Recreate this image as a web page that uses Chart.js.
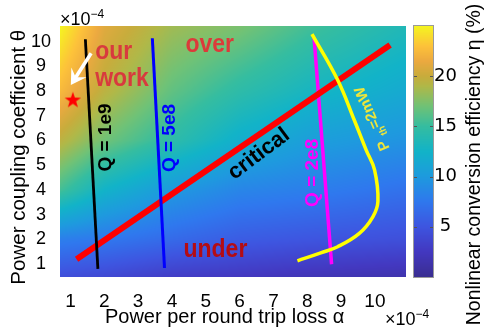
<!DOCTYPE html>
<html>
<head>
<meta charset="utf-8">
<script src="https://cdn.jsdelivr.net/npm/chart.js@4.4.0/dist/chart.umd.min.js"></script>
<style>
  html, body { margin: 0; padding: 0; background: #fff; }
  #wrap { width: 484px; height: 329px; }
</style>
</head>
<body>
<div id="wrap"><canvas id="map" width="484" height="329"></canvas></div>
<script>
// efficiency map (rows follow gridTheta, columns follow gridAlpha)
const gridAlpha = [0.7, 2, 4, 6, 8, 11];
const gridTheta = [0.5, 2, 4, 6, 8, 10.6];
const eta = [
  [4.5, 4, 3, 2.5, 2, 1.5],
  [8, 7.5, 6.5, 5.5, 5, 4.5],
  [15.5, 12.5, 10, 8.5, 8, 7],
  [19.5, 17, 14.5, 12, 10.5, 9.5],
  [22.5, 19.5, 16.5, 14.5, 13, 11.5],
  [25, 21, 18.5, 17.3, 15.5, 13.5]
];

const xTicks = [1, 2, 3, 4, 5, 6, 7, 8, 9, 10];
const yTicks = [1, 2, 3, 4, 5, 6, 7, 8, 9, 10];
const cbarTicks = [5, 10, 15, 20];

// curves (alpha, theta) in units of 1e-4
const q1e9Alpha = [1.44, 1.81];
const q1e9Theta = [10.1, 0.8];
const q5e8Alpha = [3.42, 3.78];
const q5e8Theta = [10.14, 0.84];
const q2e8Alpha = [8.2, 8.72];
const q2e8Theta = [10.2, 0.99];
const criticalAlpha = [1.18, 10.45];
const criticalTheta = [1.19, 9.87];
const pthAlpha = [8.14, 8.9, 9.39, 9.74, 9.99, 10.09, 9.94, 9.54, 8.9, 8.4, 7.71];
const pthTheta = [10.31, 8.45, 6.83, 5.62, 4.81, 3.54, 2.91, 2.24, 1.7, 1.45, 1.13];
const ourWorkAlpha = [1.07];
const ourWorkTheta = [7.66];
const arrowAlpha = [1.61, 1.01];
const arrowTheta = [9.53, 8.25];

// colour map (parula-like)
const cmapVals = [0, 2.5, 5, 7.5, 10, 12.5, 15, 17, 19, 20, 21.5, 23, 25];
const cmapRGB = [[58,46,145],[67,56,192],[62,85,224],[47,120,238],[30,154,222],[18,179,200],
                 [53,189,160],[112,194,118],[176,184,72],[200,172,60],[236,169,64],[253,194,58],[245,245,32]];

const FONT = "'Liberation Sans', Arial, sans-serif";

function colorFor(v) {
  if (v <= cmapVals[0]) return cmapRGB[0];
  for (let i = 1; i < cmapVals.length; i++) {
    if (v <= cmapVals[i]) {
      const f = (v - cmapVals[i - 1]) / (cmapVals[i] - cmapVals[i - 1]);
      const a = cmapRGB[i - 1], b = cmapRGB[i];
      return [a[0] + (b[0] - a[0]) * f, a[1] + (b[1] - a[1]) * f, a[2] + (b[2] - a[2]) * f];
    }
  }
  return cmapRGB[cmapRGB.length - 1];
}

function locate(arr, v) {
  let i = 0;
  while (i < arr.length - 2 && v > arr[i + 1]) i++;
  const f = Math.min(1, Math.max(0, (v - arr[i]) / (arr[i + 1] - arr[i])));
  return [i, f];
}

function etaAt(a, t) {
  const [i, fx] = locate(gridAlpha, a);
  const [j, fy] = locate(gridTheta, t);
  const r0 = eta[j][i] * (1 - fx) + eta[j][i + 1] * fx;
  const r1 = eta[j + 1][i] * (1 - fx) + eta[j + 1][i + 1] * fx;
  return r0 * (1 - fy) + r1 * fy;
}

const pts = (xs, ys) => xs.map((v, i) => ({ x: v, y: ys[i] }));

// star marker
const star = document.createElement('canvas');
star.width = 18; star.height = 18;
(() => {
  const s = star.getContext('2d');
  s.fillStyle = '#ff0000';
  s.beginPath();
  for (let k = 0; k < 10; k++) {
    const r = k % 2 ? 3.4 : 8.6;
    const ang = -Math.PI / 2 + k * Math.PI / 5;
    s.lineTo(9 + r * Math.cos(ang), 9.8 + r * Math.sin(ang));
  }
  s.closePath();
  s.fill();
})();

function txt(ctx, text, px, py, o) {
  ctx.save();
  ctx.translate(px, py);
  ctx.rotate(o.rot || 0);
  ctx.scale(1, o.sy || 1);
  ctx.font = o.font;
  ctx.fillStyle = o.color;
  ctx.textAlign = o.align || 'center';
  ctx.textBaseline = o.base || 'middle';
  ctx.fillText(text, 0, 0);
  ctx.restore();
}

// 1. HEATMAP behind the curves
const heatmap = {
  id: 'heatmap',
  beforeDatasetsDraw(chart) {
    const { ctx, chartArea: a, scales: { x, y } } = chart;
    const l = Math.round(a.left), t = Math.round(a.top);
    const w = Math.round(a.right) - l, h = Math.round(a.bottom) - t;
    const img = ctx.createImageData(w, h);
    for (let j = 0; j < h; j++) {
      const th = y.getValueForPixel(t + j + 0.5);
      for (let i = 0; i < w; i++) {
        const c = colorFor(etaAt(x.getValueForPixel(l + i + 0.5), th));
        const k = (j * w + i) * 4;
        img.data[k] = c[0]; img.data[k + 1] = c[1]; img.data[k + 2] = c[2]; img.data[k + 3] = 255;
      }
    }
    ctx.putImageData(img, l, t);
  }
};

// 2. COLORBAR, arrow, annotations
const extras = {
  id: 'extras',
  afterDatasetsDraw(chart) {
    const { ctx, scales: { x, y, c } } = chart;

    // arrow
    const x0 = x.getPixelForValue(arrowAlpha[0]), y0 = y.getPixelForValue(arrowTheta[0]);
    const x1 = x.getPixelForValue(arrowAlpha[1]), y1 = y.getPixelForValue(arrowTheta[1]);
    const len = Math.hypot(x1 - x0, y1 - y0), dx = (x1 - x0) / len, dy = (y1 - y0) / len;
    ctx.save();
    ctx.strokeStyle = '#fff'; ctx.fillStyle = '#fff'; ctx.lineWidth = 3.5;
    ctx.beginPath(); ctx.moveTo(x0, y0); ctx.lineTo(x1 - dx * 8, y1 - dy * 8); ctx.stroke();
    ctx.beginPath();
    ctx.moveTo(x1, y1);
    ctx.lineTo(x1 - dx * 15 - dy * 9, y1 - dy * 15 + dx * 9);
    ctx.lineTo(x1 - dx * 9, y1 - dy * 9);
    ctx.lineTo(x1 - dx * 15 + dy * 9, y1 - dy * 15 - dx * 9);
    ctx.closePath(); ctx.fill();
    ctx.restore();

    const P = (a, t) => [x.getPixelForValue(a), y.getPixelForValue(t)];
    const big = 'bold 23px ' + FONT;
    let p;
    p = P(1.73, 9.32); txt(ctx, 'our', p[0], p[1], { font: big, color: '#d83a3e', align: 'left', base: 'alphabetic', sy: 1.1 });
    p = P(1.73, 8.21); txt(ctx, 'work', p[0], p[1], { font: big, color: '#d83a3e', align: 'left', base: 'alphabetic', sy: 1.1 });
    p = P(4.4, 9.6); txt(ctx, 'over', p[0], p[1], { font: big, color: '#dc3a3a', align: 'left', base: 'alphabetic', sy: 1.1 });
    p = P(4.34, 1.27); txt(ctx, 'under', p[0], p[1], { font: big, color: '#b40c14', align: 'left', base: 'alphabetic', sy: 1.1 });

    const q = 'bold 19px ' + FONT;
    p = P(2.04, 6.12); txt(ctx, 'Q = 1e9', p[0], p[1], { font: q, color: '#000', rot: -Math.PI / 2 });
    p = P(3.95, 6.1); txt(ctx, 'Q = 5e8', p[0], p[1], { font: q, color: '#0000ff', rot: -Math.PI / 2 });
    p = P(8.15, 4.69); txt(ctx, 'Q = 2e8', p[0], p[1], { font: q, color: '#ff00ff', rot: -Math.PI / 2 });
    p = P(6.57, 5.45); txt(ctx, 'critical', p[0], p[1], { font: 'bold 22px ' + FONT, color: '#000', rot: -37 * Math.PI / 180 });

    // P_th = 2mW along the yellow curve
    p = P(9.93, 6.89);
    ctx.save();
    ctx.translate(p[0], p[1]);
    ctx.rotate(-113 * Math.PI / 180);
    ctx.fillStyle = '#eee63a';
    ctx.textBaseline = 'middle'; ctx.textAlign = 'left';
    const fMain = 'bold 15px ' + FONT, fSub = 'bold 10px ' + FONT;
    ctx.font = fMain; const wP = ctx.measureText('P ').width, wR = ctx.measureText('=2mW').width;
    ctx.font = fSub; const wS = ctx.measureText('th').width;
    let cx = -(wP + wS + wR) / 2;
    ctx.font = fMain; ctx.fillText('P ', cx, 0); cx += wP;
    ctx.font = fSub; ctx.fillText('th', cx, 5); cx += wS;
    ctx.font = fMain; ctx.fillText('=2mW', cx, 0);
    ctx.restore();

    // colorbar
    const cl = 414, cr = 433;
    ctx.save();
    for (let py = Math.round(c.top); py < Math.round(c.bottom); py++) {
      const col = colorFor(c.getValueForPixel(py + 0.5));
      ctx.fillStyle = `rgb(${col[0] | 0},${col[1] | 0},${col[2] | 0})`;
      ctx.fillRect(cl, py, cr - cl, 1);
    }
    ctx.strokeStyle = '#9a9a9a'; ctx.lineWidth = 1;
    ctx.strokeRect(cl - 0.5, Math.round(c.top) - 0.5, cr - cl + 1, Math.round(c.bottom) - Math.round(c.top) + 1);
    ctx.strokeStyle = '#555';
    cbarTicks.forEach(v => {
      const py = Math.round(c.getPixelForValue(v)) + 0.5;
      ctx.beginPath(); ctx.moveTo(cr - 3, py); ctx.lineTo(cr, py); ctx.moveTo(cl, py); ctx.lineTo(cl + 3, py); ctx.stroke();
    });
    ctx.restore();
    txt(ctx, 'Nonlinear conversion efficiency η (%)', 475, (c.top + c.bottom) / 2 + 13,
        { font: '19.5px ' + FONT, color: '#000', rot: -Math.PI / 2 });

    // x10^-4 multipliers
    const expo = (px, base) => {
      ctx.save();
      ctx.fillStyle = '#000'; ctx.textBaseline = 'alphabetic'; ctx.textAlign = 'left';
      ctx.font = '18px ' + FONT; ctx.fillText('×10', px, base);
      const w = ctx.measureText('×10').width;
      ctx.font = '12px ' + FONT; ctx.fillText('−4', px + w, base - 7);
      ctx.restore();
    };
    expo(60, 25);
    expo(385, 325);
  }
};

new Chart(document.getElementById('map'), {
  type: 'scatter',
  data: {
    datasets: [
      { data: pts(ourWorkAlpha, ourWorkTheta), pointStyle: star, pointRadius: 9, order: 0 },
      { data: pts(pthAlpha, pthTheta), showLine: true, borderColor: '#ffff00', borderWidth: 3.5, tension: 0.4, pointRadius: 0, order: 1 },
      { data: pts(q5e8Alpha, q5e8Theta), showLine: true, borderColor: '#0000ff', borderWidth: 3, pointRadius: 0, order: 2 },
      { data: pts(q1e9Alpha, q1e9Theta), showLine: true, borderColor: '#000000', borderWidth: 2.8, pointRadius: 0, order: 3 },
      { data: pts(criticalAlpha, criticalTheta), showLine: true, borderColor: '#ff0000', borderWidth: 6, pointRadius: 0, order: 4 },
      { data: pts(q2e8Alpha, q2e8Theta), showLine: true, borderColor: '#ff00ff', borderWidth: 3.5, pointRadius: 0, order: 5 }
    ]
  },
  options: {
    responsive: false,
    animation: false,
    layout: { padding: { top: 26, left: 0, right: 0, bottom: 0 }, autoPadding: false },
    plugins: { legend: { display: false }, tooltip: { enabled: false } },
    scales: {
      x: {
        type: 'linear', min: 0.69, max: 10.92,
        afterBuildTicks: s => { s.ticks = xTicks.map(v => ({ value: v })); },
        afterFit: s => { s.height = 52; },
        grid: { display: false }, border: { display: false },
        ticks: { color: '#000', font: { family: FONT, size: 19 }, padding: 5, maxRotation: 0, autoSkip: false },
        title: { display: true, text: 'Power per round trip loss α\u00a0\u00a0\u00a0', color: '#000',
                 font: { family: FONT, size: 20 }, padding: { top: 0, bottom: 0 } }
      },
      y: {
        type: 'linear', min: 0.474, max: 10.636,
        afterBuildTicks: s => { s.ticks = yTicks.map(v => ({ value: v })); },
        afterFit: s => { s.width = 60; },
        grid: { display: false }, border: { display: false },
        ticks: { color: '#000', font: { family: FONT, size: 18 }, padding: 1, crossAlign: 'center', autoSkip: false },
        title: { display: true, text: 'Power coupling coefficient θ\u00a0\u00a0', color: '#000',
                 font: { family: FONT, size: 20.5 }, padding: { top: 7, bottom: 0 } }
      },
      c: {
        type: 'linear', position: 'right', min: 0, max: 25,
        afterBuildTicks: s => { s.ticks = cbarTicks.map(v => ({ value: v })); },
        afterFit: s => { s.width = 78; },
        grid: { display: true, drawOnChartArea: false, drawTicks: true, tickLength: 28, color: 'rgba(0,0,0,0)' },
        border: { display: false },
        ticks: { color: '#000', font: { family: "'DejaVu Sans', " + FONT, size: 18 }, padding: 0, crossAlign: 'center', autoSkip: false }
      }
    }
  },
  plugins: [heatmap, extras]
});
</script>
</body>
</html>
